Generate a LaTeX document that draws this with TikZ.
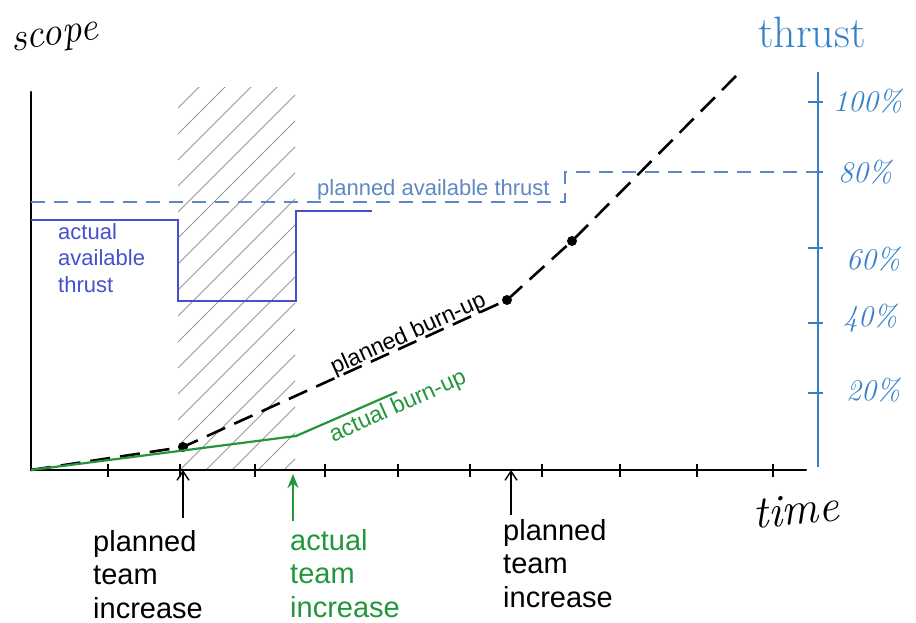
\documentclass[tikz,border=0pt]{standalone}
\usepackage{fontspec}
\newfontfamily\sansfam{Liberation Sans}
\usetikzlibrary{arrows.meta}
\definecolor{thrustblue}{RGB}{55,128,200}
\definecolor{planblue}{RGB}{95,135,195}
\definecolor{actblue}{RGB}{70,80,205}
\definecolor{burngreen}{RGB}{35,150,60}
\definecolor{hatchgray}{RGB}{150,150,150}

\begin{document}
\begin{tikzpicture}[x=1pt,y=-1pt,
  axisline/.style={line width=2.4pt, black, line cap=round},
  xtick/.style={line width=1.3pt, black},
  thrustaxis/.style={line width=2.4pt, thrustblue},
  ttick/.style={line width=1.6pt, thrustblue},
  hatchline/.style={line width=0.9pt, hatchgray},
  plannedthrust/.style={line width=1.6pt, planblue, dash pattern=on 14pt off 9pt},
  actualthrust/.style={line width=1.8pt, actblue},
  plannedburn/.style={line width=2.6pt, black, dash pattern=on 20pt off 10pt},
  actualburn/.style={line width=2.2pt, burngreen},
  milestone/.style={circle, fill=black, inner sep=0pt, minimum size=10pt},
  biglbl/.style={font=\sansfam\fontsize{29}{33.5}\selectfont, align=left, inner sep=0pt, anchor=north west},
  smalllbl/.style={font=\sansfam\fontsize{22}{26.5}\selectfont, align=left, inner sep=0pt},
  hand/.style={font=\itshape, inner sep=0pt},
  pointer/.style={line width=1.4pt, black, -{Straight Barb[length=9pt,width=12pt,line width=1.4pt]}},
  greenpointer/.style={line width=2.6pt, burngreen, -{Stealth[length=14pt,width=11pt]}},
]
\useasboundingbox (0,0) rectangle (916,623);

% hatched period between planned and actual team increase
\begin{scope}
  \clip (178,88) rectangle (295,470);
  \foreach \i in {0,...,20}
    \draw[hatchline] (-210+26*\i,470) -- ++(420,-420);
\end{scope}

% scope / time axes
\coordinate (O) at (31,470);
\coordinate (Ytop) at (31,92);
\coordinate (Xend) at (806,470);
\draw[axisline] (Ytop) -- (O) -- (Xend);
\foreach \x in {108,180,255,325,398,470,542,620,697,773}
  \draw[xtick] (\x,464) -- (\x,477);

% thrust axis
\coordinate (Ttop) at (818,72);
\coordinate (Tbot) at (818,467);
\draw[thrustaxis] (Ttop) -- (Tbot);
\foreach \y in {102,172,248,323,393}
  \draw[ttick] (808,\y) -- (823,\y);

% axis titles
\node[hand, font=\itshape\fontsize{40}{40}\selectfont, rotate=8] (scope) at (55,40) {scope};
\node[hand, font=\itshape\fontsize{46}{46}\selectfont, rotate=5] (time) at (796,510) {time};
\node[hand, font=\fontsize{44}{44}\selectfont, text=thrustblue] (thrust) at (812,32) {thrust};
\node[hand, font=\itshape\fontsize{30}{30}\selectfont, text=thrustblue, anchor=west] (p100) at (833,101) {100\%};
\node[hand, font=\itshape\fontsize{30}{30}\selectfont, text=thrustblue, anchor=west] (p80) at (838,172) {80\%};
\node[hand, font=\itshape\fontsize{30}{30}\selectfont, text=thrustblue, anchor=west] (p60) at (846,259) {60\%};
\node[hand, font=\itshape\fontsize{30}{30}\selectfont, text=thrustblue, anchor=west] (p40) at (843,318) {40\%};
\node[hand, font=\itshape\fontsize{30}{30}\selectfont, text=thrustblue, anchor=west] (p20) at (846,390) {20\%};

% planned and actual available thrust
\draw[plannedthrust] (31,202) -- (565,202) -- (565,172) -- (818,172);
\node[smalllbl, text=planblue, anchor=base west] (ptlbl) at (317,195) {planned available thrust};
\draw[actualthrust] (31,220) -- (178,220) -- (178,301) -- (296,301) -- (296,211) -- (372,211);
\node[smalllbl, text=actblue, anchor=north west] (atlbl) at (58,223) {actual\\available\\thrust};

% planned burn-up
\node[milestone] (m1) at (183,447) {};
\node[milestone] (m2) at (507,300) {};
\node[milestone] (m3) at (572,241) {};
\coordinate (bend) at (742,70);
\draw[plannedburn] (O) -- (m1.center) -- (m2.center) -- (m3.center) -- (bend);
\node[font=\sansfam\fontsize{23}{23}\selectfont, inner sep=0pt, anchor=base, rotate=24.4] (pblbl) at (411,340) {planned burn-up};

% actual burn-up
\coordinate (g1) at (296,436);
\coordinate (g2) at (397,392);
\draw[actualburn] (O) -- (g1) -- (g2);
\node[font=\sansfam\fontsize{23}{23}\selectfont, inner sep=0pt, text=burngreen, rotate=24] (ablbl) at (398,407) {actual burn-up};

% team increase markers
\node[biglbl] (pti1) at (93,530) {planned\\team\\increase};
\node[biglbl, text=burngreen] (ati) at (290,529) {actual\\team\\increase};
\node[biglbl] (pti2) at (503,519) {planned\\team\\increase};
\coordinate (a1) at (183,518);
\coordinate (a2) at (293,521);
\coordinate (a3) at (511,515);
\draw[pointer] (a1) -- (a1 |- O);
\draw[greenpointer] (a2) -- ([yshift=-4pt]a2 |- O);
\draw[pointer] (a3) -- (a3 |- O);
\end{tikzpicture}
\end{document}
